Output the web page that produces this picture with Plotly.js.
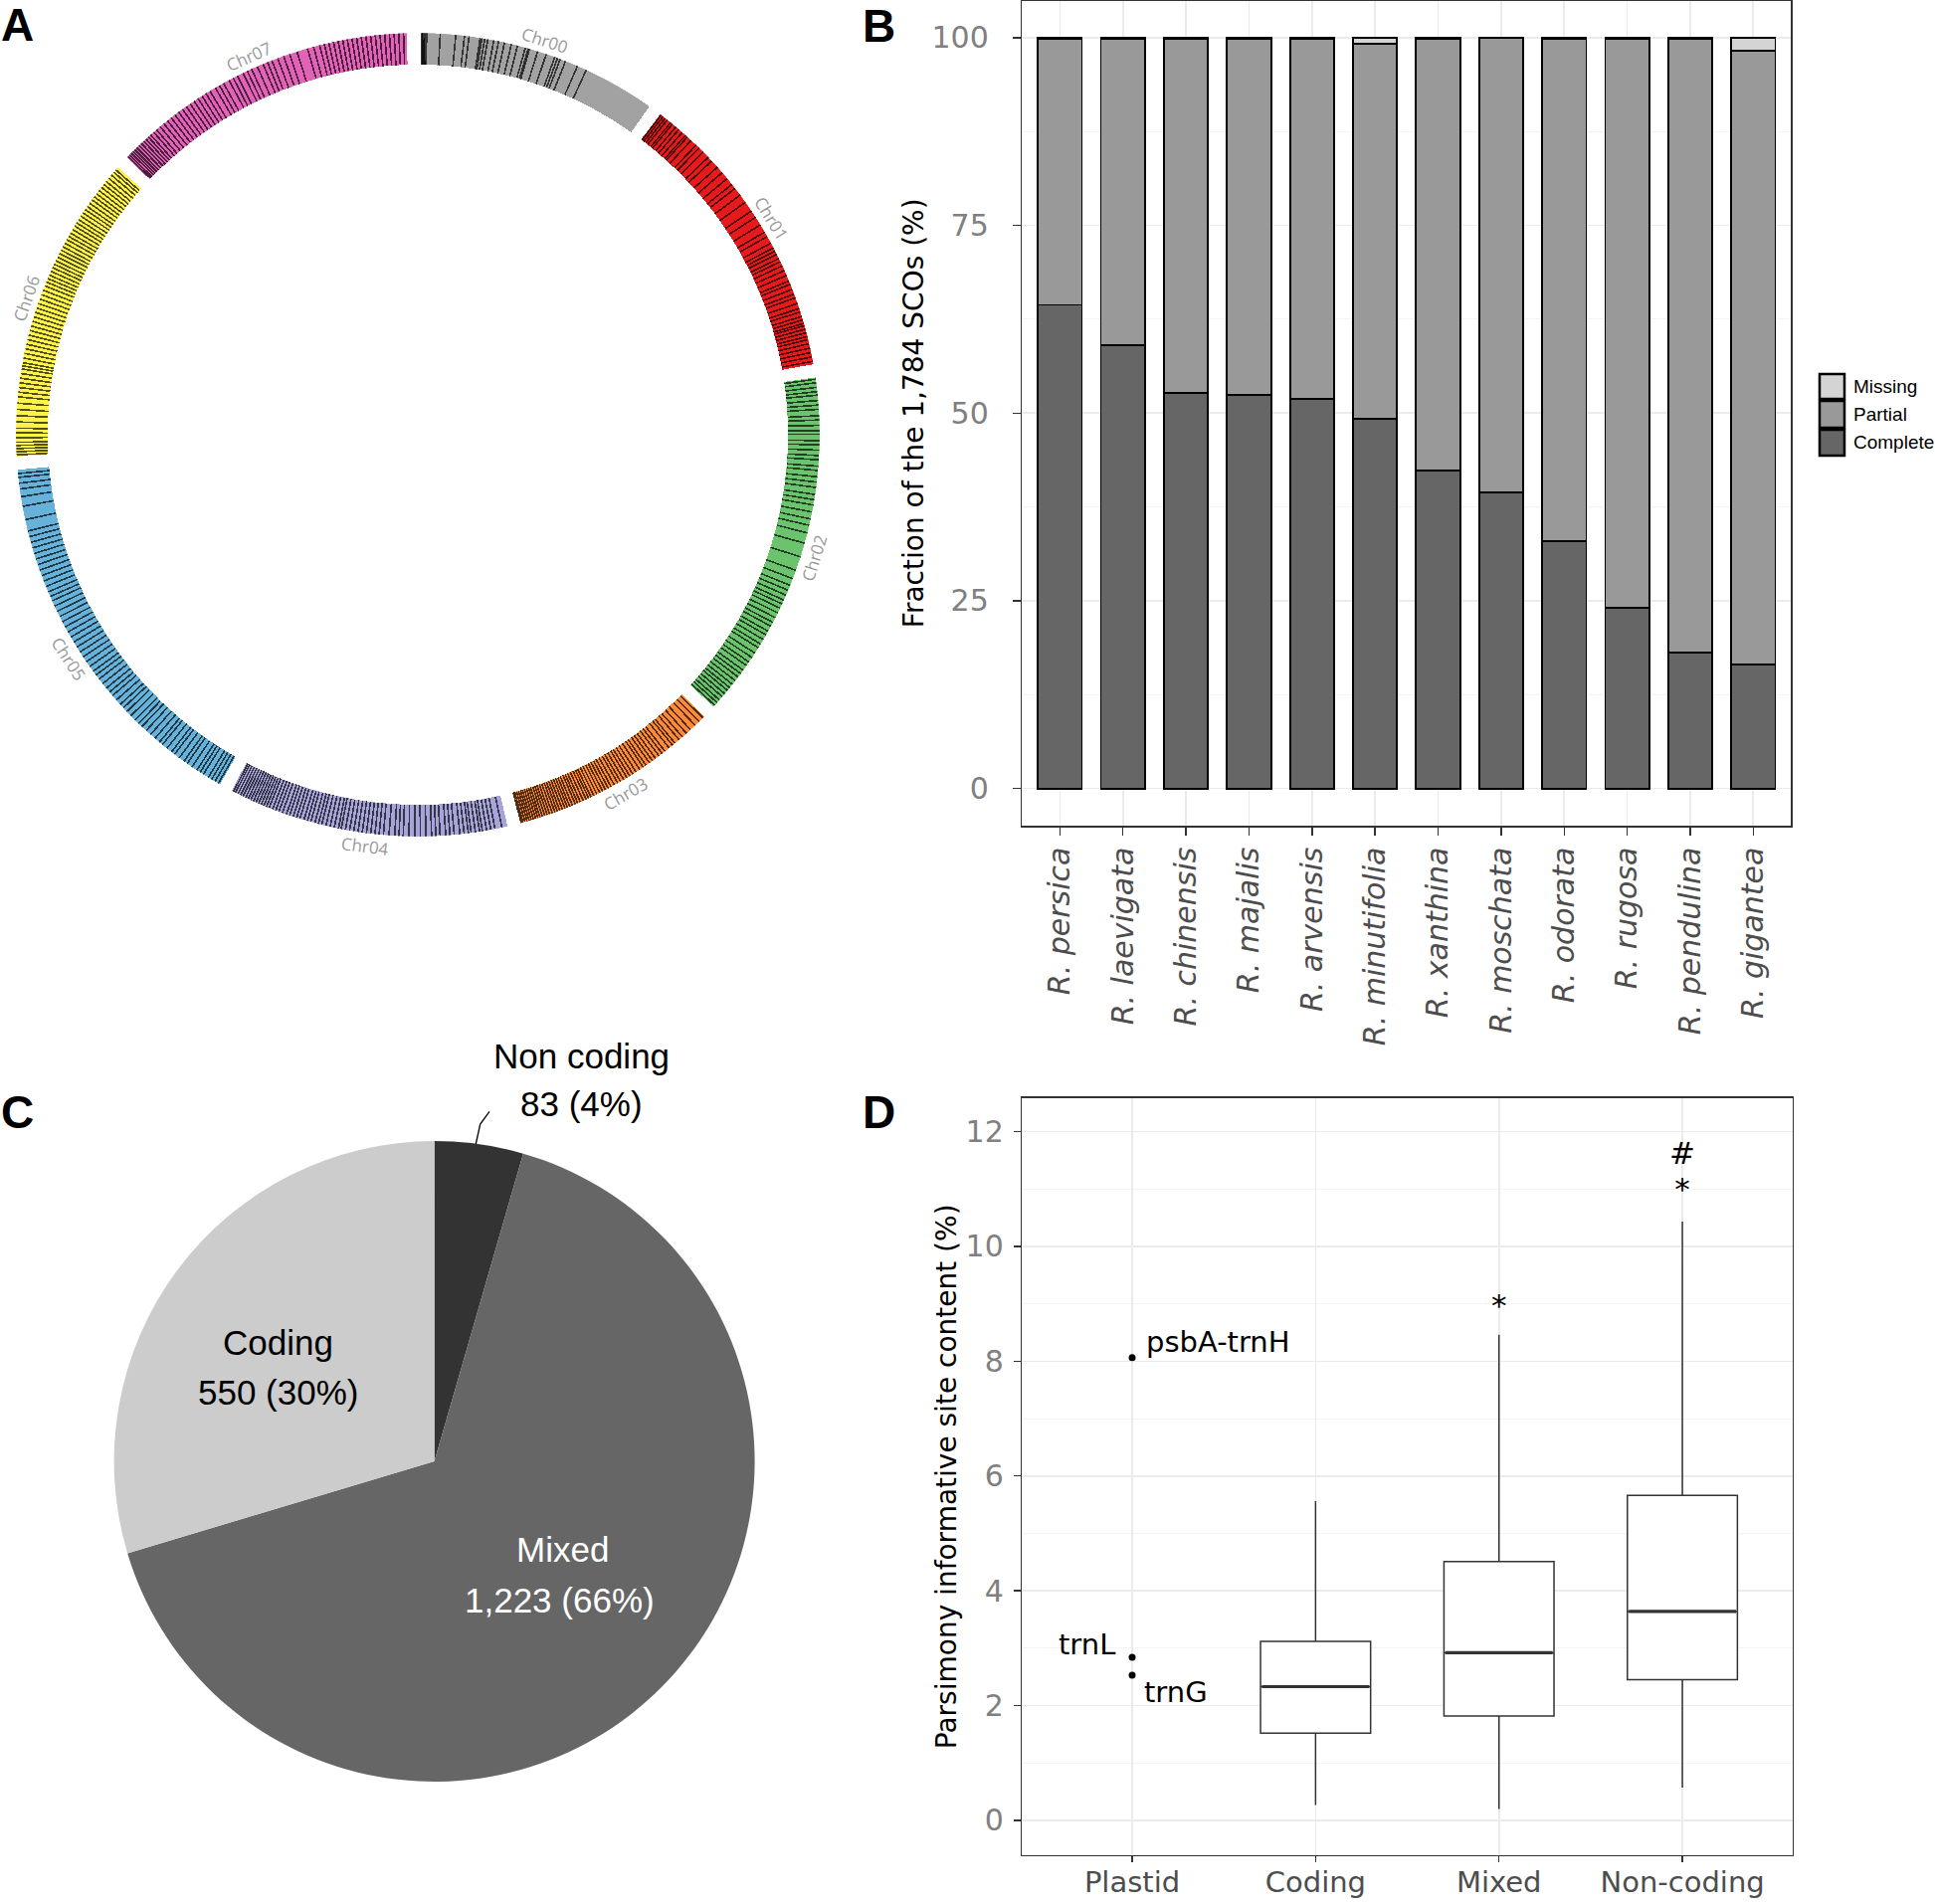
<!DOCTYPE html>
<html><head><meta charset="utf-8">
<script src="https://cdn.plot.ly/plotly-3.0.1.min.js"></script>
<style>html,body{margin:0;padding:0;background:#fff}#chart{width:1945px;height:1914px}</style>
</head><body><div id="chart"></div>
<script>
// ---------------- Panel A : chromosome ring ----------------
const chrNames = ['Chr00','Chr01','Chr02','Chr03','Chr04','Chr05','Chr06','Chr07'];
const chrSpanDeg = [34.7, 42.8, 50.8, 30.7, 40.5, 55.5, 44.8, 44.8];
const chrColors = ['#a2a2a2','#e6191b','#6bc36d','#fd8a36','#a7a4da','#66b2db','#fff445','#e262b8'];
const chr00Marks = [0.003,0.007,0.012,0.016,0.022,0.078,0.142,0.178,0.197,0.243,0.25,0.262,0.275,0.30,0.32,0.345,0.374,0.40,0.433,0.445,0.451,0.486,0.523,0.56,0.572,0.584,0.607,0.66,0.70];
const chr01Marks = [0.004,0.012,0.021,0.03,0.044,0.052,0.067,0.08,0.095,0.11,0.118,0.135,0.158,0.172,0.19,0.215,0.232,0.26,0.284,0.31,0.335,0.352,0.38,0.41,0.445,0.47,0.5,0.528,0.545,0.57,0.588,0.6,0.612,0.628,0.64,0.655,0.672,0.69,0.71,0.722,0.74,0.757,0.77,0.79,0.808,0.82,0.836,0.848,0.86,0.868,0.88,0.892,0.905,0.916,0.93,0.945,0.96,0.975,0.99];
const chr02Marks = [0.005,0.015,0.028,0.04,0.05,0.065,0.078,0.09,0.108,0.12,0.135,0.15,0.16,0.178,0.19,0.205,0.22,0.232,0.25,0.262,0.28,0.295,0.31,0.33,0.345,0.36,0.38,0.4,0.418,0.44,0.47,0.51,0.55,0.575,0.595,0.61,0.625,0.64,0.652,0.665,0.68,0.695,0.71,0.722,0.738,0.75,0.765,0.78,0.792,0.81,0.825,0.84,0.852,0.868,0.88,0.892,0.905,0.918,0.93,0.94,0.952,0.963,0.975,0.985,0.995];
const chr03Marks = [0.01,0.035,0.06,0.09,0.115,0.14,0.16,0.185,0.2,0.22,0.245,0.262,0.28,0.3,0.318,0.335,0.355,0.37,0.39,0.41,0.428,0.445,0.46,0.478,0.495,0.51,0.528,0.545,0.56,0.575,0.59,0.605,0.62,0.635,0.65,0.662,0.675,0.69,0.705,0.718,0.73,0.745,0.758,0.77,0.782,0.795,0.808,0.82,0.832,0.845,0.858,0.87,0.882,0.893,0.905,0.915,0.926,0.937,0.948,0.958,0.968,0.978,0.988,0.996];
const chr04Marks = [0.02,0.045,0.06,0.075,0.09,0.1,0.115,0.13,0.14,0.155,0.17,0.19,0.205,0.22,0.24,0.255,0.27,0.29,0.31,0.33,0.35,0.37,0.385,0.4,0.42,0.44,0.455,0.47,0.485,0.5,0.515,0.53,0.545,0.56,0.575,0.59,0.6,0.615,0.63,0.645,0.66,0.672,0.685,0.7,0.712,0.725,0.74,0.752,0.765,0.778,0.79,0.805,0.818,0.83,0.842,0.855,0.865,0.875,0.885,0.895,0.905,0.915,0.925,0.935,0.945,0.955,0.965,0.975,0.985,0.993];
const chr05Marks = [0.005,0.015,0.025,0.035,0.05,0.06,0.07,0.085,0.1,0.11,0.125,0.14,0.15,0.165,0.18,0.19,0.205,0.22,0.235,0.25,0.262,0.275,0.29,0.305,0.318,0.33,0.345,0.36,0.372,0.385,0.4,0.415,0.428,0.44,0.455,0.47,0.485,0.5,0.515,0.53,0.545,0.56,0.575,0.59,0.605,0.62,0.635,0.65,0.662,0.675,0.69,0.705,0.72,0.735,0.75,0.765,0.78,0.795,0.81,0.825,0.84,0.87,0.905,0.93,0.95,0.965,0.98,0.99];
const chr06Marks = [0.005,0.015,0.025,0.035,0.045,0.06,0.075,0.09,0.11,0.13,0.15,0.17,0.19,0.205,0.22,0.235,0.25,0.265,0.28,0.29,0.3,0.315,0.33,0.345,0.36,0.375,0.39,0.405,0.42,0.435,0.45,0.465,0.48,0.495,0.51,0.525,0.54,0.555,0.568,0.58,0.592,0.605,0.618,0.63,0.642,0.655,0.668,0.68,0.692,0.705,0.718,0.73,0.742,0.755,0.768,0.78,0.792,0.805,0.818,0.83,0.842,0.855,0.868,0.88,0.892,0.905,0.918,0.93,0.942,0.955,0.968,0.98,0.99];
const chr07Marks = [0.005,0.012,0.02,0.028,0.036,0.045,0.055,0.065,0.075,0.085,0.095,0.105,0.118,0.13,0.145,0.16,0.175,0.19,0.205,0.22,0.235,0.25,0.265,0.28,0.295,0.31,0.325,0.34,0.36,0.375,0.39,0.41,0.425,0.44,0.46,0.475,0.49,0.51,0.53,0.545,0.56,0.58,0.6,0.62,0.645,0.68,0.7,0.72,0.735,0.75,0.765,0.78,0.795,0.81,0.825,0.84,0.855,0.87,0.885,0.9,0.915,0.93,0.945,0.96,0.975,0.99];
const chrMarks = [chr00Marks,chr01Marks,chr02Marks,chr03Marks,chr04Marks,chr05Marks,chr06Marks,chr07Marks];

// ---------------- Panel B : SCO completeness ----------------
const species = ['R. persica','R. laevigata','R. chinensis','R. majalis','R. arvensis','R. minutifolia','R. xanthina','R. moschata','R. odorata','R. rugosa','R. pendulina','R. gigantea'];
const completePct = [64.4, 59.0, 52.7, 52.4, 51.9, 49.2, 42.3, 39.4, 32.9, 24.1, 18.1, 16.5];
const missingPct  = [0.2, 0.2, 0.2, 0.2, 0.2, 0.8, 0.2, 0.05, 0.2, 0.1, 0.2, 1.7];
const partialPct  = completePct.map((c,i)=> +(100 - c - missingPct[i]).toFixed(2));
const statusNames = ['Complete','Partial','Missing'];
const statusColors = ['#666666','#999999','#d4d4d4'];

// ---------------- Panel C : pie ----------------
const pieLabels = ['Non coding','Mixed','Coding'];
const pieValues = [83, 1223, 550];
const pieColors = ['#333333','#666666','#cccccc'];

// ---------------- Panel D : boxplots ----------------
const dGroups = ['Plastid','Coding','Mixed','Non-coding'];
const boxGroups = ['Coding','Mixed','Non-coding'];
const boxLower  = [0.27, 0.20, 0.57];
const boxQ1     = [1.52, 1.82, 2.45];
const boxMedian = [2.33, 2.92, 3.64];
const boxQ3     = [3.12, 4.51, 5.66];
const boxUpper  = [5.56, 8.46, 10.43];
const plastidNames  = ['psbA-trnH','trnL','trnG'];
const plastidValues = [8.06, 2.84, 2.53];
const sigGroups = ['Mixed','Non-coding','Non-coding'];
const sigText   = ['*','*','#'];
const sigY      = [8.92, 10.94, 11.57];

// ================= build =================
const W = 1945, H = 1914;
const px = v => v / W, py = v => 1 - v / H;
const gg = 'DejaVu Sans, Verdana, sans-serif';
const arial = 'Liberation Sans, Arial, sans-serif';

// ring geometry
const ringCx = 420, ringCy = 437, ringR = 404;
const ringBase = 92.1, ringThick = 7.9;
const ringOffset = 0.5, ringGap = 1.9;
const chrStart = [];
{ let a = ringOffset; chrSpanDeg.forEach(s => { chrStart.push(a); a += s + ringGap; }); }
const chrCenter = chrStart.map((s,i)=> s + chrSpanDeg[i]/2);

const traces = [];
traces.push({
  type:'barpolar', subplot:'polar',
  theta: chrCenter, width: chrSpanDeg,
  r: chrNames.map(()=>ringThick), base: chrNames.map(()=>ringBase),
  marker:{color: chrColors, line:{width:0}}, hoverinfo:'none', showlegend:false
});
const markTheta = [];
chrMarks.forEach((arr,i)=> arr.forEach(f => markTheta.push(chrStart[i] + f*chrSpanDeg[i])));
traces.push({
  type:'barpolar', subplot:'polar',
  theta: markTheta, width: markTheta.map(()=>0.24),
  r: markTheta.map(()=>ringThick), base: markTheta.map(()=>ringBase),
  marker:{color:'rgba(0,0,0,0.68)', line:{width:0}}, hoverinfo:'none', showlegend:false
});

// Panel B bars
const stacks = [completePct, partialPct, missingPct];
stacks.forEach((vals,k)=>{
  traces.push({
    type:'bar', x: species, y: vals, name: statusNames[k], xaxis:'x', yaxis:'y',
    width: 0.7, marker:{color: statusColors[k], line:{color:'#000', width:1.8}},
    hoverinfo:'none', showlegend:false
  });
});

// Panel C pie
traces.push({
  type:'pie', labels: pieLabels, values: pieValues, sort:false, direction:'clockwise', rotation:0,
  marker:{colors: pieColors, line:{width:0}}, textinfo:'none', hoverinfo:'none', showlegend:false,
  domain:{x:[px(436.6-322), px(436.6+322)], y:[py(1469+322), py(1469-322)]}
});

// Panel D
traces.push({
  type:'box', x: boxGroups, q1: boxQ1, median: boxMedian, q3: boxQ3,
  lowerfence: boxLower, upperfence: boxUpper, xaxis:'x2', yaxis:'y2',
  boxpoints:false, width:0.6, whiskerwidth:0, fillcolor:'#ffffff',
  line:{color:'#333333', width:1.5}, hoverinfo:'none', showlegend:false
});
traces.push({
  type:'scatter', mode:'markers', x: boxGroups, y: boxMedian, xaxis:'x2', yaxis:'y2',
  marker:{symbol:'line-ew', size:77, line:{color:'#333333', width:3.2}},
  hoverinfo:'none', showlegend:false
});
traces.push({
  type:'scatter', mode:'markers', x: plastidNames.map(()=> 'Plastid'), y: plastidValues,
  xaxis:'x2', yaxis:'y2', marker:{color:'#000', size:7}, hoverinfo:'none', showlegend:false
});
traces.push({
  type:'scatter', mode:'text', x: sigGroups, y: sigY, text: sigText, textposition:'middle center',
  textfont:{family:gg, size:31, color:'#000'}, xaxis:'x2', yaxis:'y2',
  hoverinfo:'none', showlegend:false, cliponaxis:false
});

// annotations
const ann = [];
const letter = (t,x,y)=> ann.push({text:'<b>'+t+'</b>', x:px(x), y:py(y), xref:'paper', yref:'paper',
  showarrow:false, xanchor:'center', yanchor:'middle', font:{family:arial, size:46, color:'#000'}});
letter('A',17,25); letter('B',883,26); letter('C',17,1118); letter('D',883,1118);

// ring labels
chrNames.forEach((n,i)=>{
  const th = chrCenter[i], rad = th*Math.PI/180, lr = ringR + 13;
  const x = ringCx + lr*Math.sin(rad), y = ringCy - lr*Math.cos(rad);
  let ang = th; if (th > 90 && th < 270) ang = th - 180; else if (th >= 270) ang = th - 360;
  ann.push({text:n, x:px(x), y:py(y), xref:'paper', yref:'paper', showarrow:false,
    xanchor:'center', yanchor:'middle', textangle: ang,
    font:{family:'Open Sans, DejaVu Sans, sans-serif', size:17, color:'#999999'}});
});

// plastid labels (anchored on the data points)
const plastidOffsets = [[12,16,'left'],[-15,13,'right'],[10,-17,'left']];
plastidNames.forEach((n,i)=> ann.push({text:n, x:0, y:plastidValues[i], xref:'x2', yref:'y2',
  showarrow:false, xanchor:plastidOffsets[i][2], yanchor:'middle',
  xshift:plastidOffsets[i][0], yshift:plastidOffsets[i][1],
  font:{family:gg, size:29, color:'#000'}}));

// pie labels
const pieText = [
  ['Non coding', 584.8, 1061, '#000'], [pieValues[0]+' (4%)', 584.8, 1109, '#000'],
  ['Coding', 279.8, 1349, '#000'], [pieValues[2]+' (30%)', 279.8, 1399, '#000'],
  ['Mixed', 565, 1557, '#fff'], [pieValues[1].toLocaleString('en-US')+' (66%)', 562, 1608, '#fff']
];
pieText.forEach(([t,x,y,c])=> ann.push({text:t, x:px(x), y:py(y), xref:'paper', yref:'paper',
  showarrow:false, xanchor:'center', yanchor:'middle', font:{family:arial, size:35, color:c}}));

// legend for B
const legY = [[376,401],[403,430],[432,458]]; // Missing, Partial, Complete
const legOrder = [2,1,0];
const shapes = [];
legOrder.forEach((k,j)=>{
  shapes.push({type:'rect', xref:'paper', yref:'paper', x0:px(1829), x1:px(1854),
    y0:py(legY[j][1]), y1:py(legY[j][0]), fillcolor: statusColors[k], line:{color:'#000', width:2.5}});
  ann.push({text: statusNames[k], x:px(1861), y:py((legY[j][0]+legY[j][1])/2), xref:'paper', yref:'paper',
    showarrow:false, xanchor:'left', yanchor:'middle', font:{family:arial, size:19, color:'#000'}});
});
// pie leader line
shapes.push({type:'path', xref:'paper', yref:'paper',
  path:`M ${px(478.3)} ${py(1150)} L ${px(482.7)} ${py(1130)} L ${px(492)} ${py(1117.4)}`,
  line:{color:'#000', width:1.3}});

const axCommon = {showline:true, mirror:true, linecolor:'#333333', linewidth:1.6,
  ticks:'outside', tickcolor:'#333333', tickwidth:1.4, zeroline:false, automargin:false,
  showgrid:true, gridcolor:'#ebebeb', gridwidth:1.6};

const layout = {
  width:W, height:H, margin:{l:0,r:0,t:0,b:0}, paper_bgcolor:'#fff', plot_bgcolor:'#fff',
  showlegend:false, barmode:'stack',
  polar:{domain:{x:[px(ringCx-ringR), px(ringCx+ringR)], y:[py(ringCy+ringR), py(ringCy-ringR)]},
    bgcolor:'rgba(0,0,0,0)', hole:0,
    radialaxis:{visible:false, range:[0,100]},
    angularaxis:{visible:false, rotation:90, direction:'clockwise', showgrid:false, showline:false}},
  xaxis: Object.assign({}, axCommon, {domain:[px(1027.4), px(1800.3)], anchor:'y', type:'category',
    categoryorder:'array', categoryarray:species, range:[-0.6, 11.6], tickangle:-90, ticklen:8,
    tickvals: species, ticktext: species.map(s=>'<i>'+s+'</i>'),
    tickfont:{family:gg, size:30, color:'#4d4d4d'}}),
  yaxis: Object.assign({}, axCommon, {domain:[py(830), py(0.5)], anchor:'x', range:[-4.95, 104.95],
    tickvals:[0,25,50,75,100], ticklen:8, ticklabelstandoff:18,
    minor:{tickvals:[12.5,37.5,62.5,87.5], showgrid:true, gridcolor:'#f3f3f3', gridwidth:0.9, ticks:''},
    tickfont:{family:gg, size:30, color:'#808080'},
    title:{text:'Fraction of the 1,784 SCOs (%)', font:{family:gg, size:28, color:'#000'}, standoff:0}}),
  xaxis2: Object.assign({}, axCommon, {domain:[px(1027.4), px(1801.7)], anchor:'y2', type:'category',
    categoryorder:'array', categoryarray:dGroups, range:[-0.6, 3.6], ticklen:6, ticklabelstandoff:-5,
    tickfont:{family:gg, size:29, color:'#4d4d4d'}}),
  yaxis2: Object.assign({}, axCommon, {domain:[py(1864.6), py(1104)], anchor:'x2', range:[-0.6, 12.58],
    tickvals:[0,2,4,6,8,10,12], ticklen:7, ticklabelstandoff:4,
    minor:{tickvals:[1,3,5,7,9,11], showgrid:true, gridcolor:'#f3f3f3', gridwidth:0.9, ticks:''},
    tickfont:{family:gg, size:30, color:'#808080'},
    title:{text:'Parsimony informative site content (%)', font:{family:gg, size:28, color:'#000'}, standoff:1}}),
  annotations: ann, shapes: shapes
};

Plotly.newPlot('chart', traces, layout, {staticPlot:true, displayModeBar:false});
</script>
</body></html>
